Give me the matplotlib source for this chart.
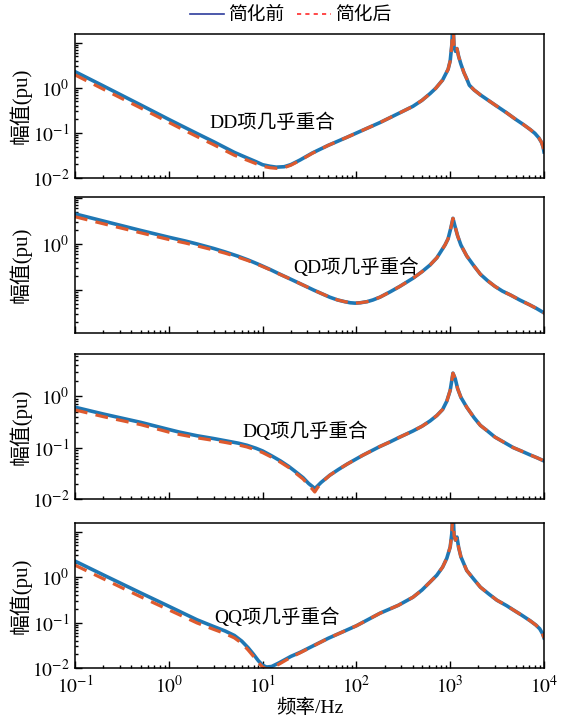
"""Comparaison des impedances avant / apres simplification (4 termes DD, QD, DQ, QQ)."""
import matplotlib
matplotlib.use("Agg")
import matplotlib.pyplot as plt
from matplotlib.lines import Line2D
from matplotlib.ticker import LogLocator, NullFormatter

plt.rcParams["font.family"] = ["Liberation Serif", "Noto Sans CJK SC"]
plt.rcParams["mathtext.fontset"] = "stix"

BLEU = "#1f77b4"
ROUGE = "#de5a2e"

# --- DD ---
freq_dd = [0.1, 0.2, 0.5, 1, 1.3, 2, 3, 5, 6.8, 8.5, 10, 12, 14, 17, 20, 25, 34, 50,
           79, 120, 178, 290, 400, 500, 610, 700, 830, 950, 1000, 1040, 1070, 1100,
           1140, 1180, 1230, 1300, 1400, 1500, 1600, 1800, 2100, 3000, 4000, 5000,
           6000, 7100, 8000, 8800, 9400, 9800, 10000]
avant_dd = [2.3, 1.11, 0.42, 0.2, 0.152, 0.097, 0.064, 0.037, 0.028, 0.023, 0.0197,
            0.0182, 0.0174, 0.0178, 0.0198, 0.025, 0.036, 0.053, 0.08, 0.118, 0.17,
            0.28, 0.39, 0.53, 0.75, 0.98, 1.5, 2.6, 4.0, 9, 30, 8, 6.5, 7.5, 5, 3.4,
            2.2, 1.6, 1.15, 0.9, 0.7, 0.42, 0.28, 0.2, 0.155, 0.12, 0.098, 0.078,
            0.062, 0.048, 0.038]
apres_dd = [1.95, 0.94, 0.36, 0.172, 0.13, 0.083, 0.055, 0.032, 0.025, 0.0208, 0.0182,
            0.0169, 0.0164, 0.017, 0.0192, 0.0245, 0.0355, 0.053, 0.08, 0.118, 0.17,
            0.28, 0.39, 0.53, 0.75, 0.98, 1.5, 2.6, 4.0, 9, 30, 8, 6.5, 7.5, 5, 3.4,
            2.2, 1.6, 1.15, 0.9, 0.7, 0.42, 0.28, 0.2, 0.155, 0.12, 0.098, 0.078,
            0.062, 0.048, 0.038]

# --- QD ---
freq_qd = [0.1, 0.2, 0.5, 1, 1.5, 2, 3, 4, 5.5, 7, 9.4, 12, 15, 19, 23, 29, 35, 43,
           52, 63, 75, 86, 97, 110, 130, 150, 178, 230, 290, 400, 500, 610, 720, 800,
           880, 950, 1020, 1070, 1120, 1200, 1300, 1500, 1800, 2100, 2500, 3000,
           3600, 4400, 5500, 7000, 8300, 10000]
avant_qd = [4.5, 3.15, 1.97, 1.4, 1.16, 1.0, 0.8, 0.67, 0.54, 0.45, 0.35, 0.28, 0.225,
            0.18, 0.15, 0.12, 0.1, 0.083, 0.07, 0.061, 0.056, 0.053, 0.052, 0.053,
            0.056, 0.061, 0.07, 0.092, 0.12, 0.18, 0.25, 0.35, 0.5, 0.7, 0.95, 1.3,
            2.3, 3.6, 2.5, 1.5, 0.95, 0.55, 0.33, 0.22, 0.16, 0.12, 0.095, 0.078,
            0.061, 0.048, 0.04, 0.032]
apres_qd = [3.9, 2.75, 1.75, 1.25, 1.05, 0.91, 0.74, 0.63, 0.515, 0.435, 0.342, 0.276,
            0.223, 0.18, 0.15, 0.12, 0.1, 0.083, 0.07, 0.061, 0.056, 0.053, 0.052,
            0.053, 0.056, 0.061, 0.07, 0.092, 0.12, 0.18, 0.25, 0.35, 0.5, 0.7, 0.95,
            1.3, 2.3, 3.6, 2.5, 1.5, 0.95, 0.55, 0.33, 0.22, 0.16, 0.12, 0.095, 0.078,
            0.061, 0.048, 0.04, 0.032]

# --- DQ ---
freq_dq = [0.1, 0.2, 0.5, 1, 1.3, 2, 3, 4, 5.5, 6.8, 8.5, 10, 12.5, 15.5, 19, 22, 27,
           31, 34, 36, 38, 42, 52, 65, 80, 117, 178, 230, 290, 400, 500, 610, 720,
           830, 920, 1000, 1070, 1130, 1200, 1300, 1500, 1800, 2100, 2500, 3000, 3800,
           4700, 5800, 7000, 8500, 10000]
avant_dq = [0.61, 0.45, 0.31, 0.225, 0.2, 0.17, 0.15, 0.136, 0.122, 0.111, 0.097,
            0.086, 0.069, 0.055, 0.043, 0.035, 0.026, 0.02, 0.0175, 0.016, 0.0175,
            0.021, 0.029, 0.038, 0.048, 0.071, 0.105, 0.13, 0.16, 0.21, 0.26, 0.33,
            0.42, 0.55, 0.8, 1.3, 2.8, 2.2, 1.4, 0.95, 0.61, 0.38, 0.27, 0.21, 0.16,
            0.125, 0.1, 0.085, 0.073, 0.063, 0.055]
apres_dq = [0.54, 0.40, 0.28, 0.2, 0.18, 0.155, 0.138, 0.126, 0.113, 0.103, 0.09,
            0.08, 0.065, 0.052, 0.041, 0.033, 0.0245, 0.0185, 0.0155, 0.0137, 0.016,
            0.0205, 0.029, 0.038, 0.048, 0.071, 0.105, 0.13, 0.16, 0.21, 0.26, 0.33,
            0.42, 0.55, 0.8, 1.3, 2.8, 2.2, 1.4, 0.95, 0.61, 0.38, 0.27, 0.21, 0.16,
            0.125, 0.1, 0.085, 0.073, 0.063, 0.055]

# --- QQ ---
freq_qq = [0.1, 0.2, 0.5, 0.95, 2, 3, 4, 5, 6, 7, 8, 9, 10, 11, 12.5, 15, 20, 25, 50,
           100, 178, 280, 400, 500, 610, 720, 830, 920, 1000, 1040, 1070, 1100, 1140,
           1180, 1230, 1300, 1500, 1800, 2100, 2600, 3150, 4000, 4700, 5800, 7100,
           8200, 9000, 9600, 10000]
avant_qq = [2.25, 1.12, 0.45, 0.24, 0.115, 0.082, 0.065, 0.052, 0.039, 0.028, 0.02,
            0.0145, 0.0115, 0.0105, 0.0108, 0.013, 0.018, 0.022, 0.045, 0.085, 0.16,
            0.24, 0.36, 0.52, 0.78, 1.1, 1.66, 2.6, 4.6, 9, 30, 8, 6.5, 7.6, 4.5, 2.8,
            1.4, 0.88, 0.6, 0.42, 0.31, 0.235, 0.19, 0.145, 0.11, 0.088, 0.073, 0.058,
            0.046]
apres_qq = [1.83, 0.92, 0.37, 0.2, 0.098, 0.071, 0.057, 0.046, 0.035, 0.025, 0.018,
            0.0133, 0.0105, 0.0095, 0.0099, 0.0122, 0.0172, 0.0215, 0.045, 0.085, 0.16,
            0.24, 0.36, 0.52, 0.78, 1.1, 1.66, 2.6, 4.6, 9, 30, 8, 6.5, 7.6, 4.5, 2.8,
            1.4, 0.88, 0.6, 0.42, 0.31, 0.235, 0.19, 0.145, 0.11, 0.088, 0.073, 0.058,
            0.046]

XTICKS = [0.1, 1, 10, 100, 1000, 10000]
XLABELS = ["$10^{-1}$", "$10^{0}$", "$10^{1}$", "$10^{2}$", "$10^{3}$", "$10^{4}$"]

# (donnees, texte, position texte, ylim, yticks, ylabels, position axes)
PANNEAUX = [
    (freq_dd, avant_dd, apres_dd, "DD项几乎重合", (0.42, 0.38), (0.01, 15.8),
     [1e-2, 1e-1, 1e0, 1e1], ["$10^{-2}$", "$10^{-1}$", "$10^{0}$", ""],
     [0.1337, 0.7528, 0.836, 0.200]),
    (freq_qd, avant_qd, apres_qd, "QD项几乎重合", (0.60, 0.485), (0.0117, 10.5),
     [1e-1, 1e0, 1e1], ["", "$10^{0}$", ""],
     [0.1337, 0.5375, 0.836, 0.189]),
    (freq_dq, avant_dq, apres_dq, "DQ项几乎重合", (0.49, 0.47), (0.01, 6.6),
     [1e-2, 1e-1, 1e0], ["$10^{-2}$", "$10^{-1}$", "$10^{0}$"],
     [0.1337, 0.3069, 0.836, 0.2014]),
    (freq_qq, avant_qq, apres_qq, "QQ项几乎重合", (0.43, 0.35), (0.01, 15.5),
     [1e-2, 1e-1, 1e0, 1e1], ["$10^{-2}$", "$10^{-1}$", "$10^{0}$", ""],
     [0.1337, 0.0722, 0.836, 0.2014]),
]


def tracer_panneau(fig, panneau, dernier):
    """Trace un terme de l'impedance sur son propre axe."""
    freq, avant, apres, texte, pos, ylim, yticks, ylabels, rect = panneau
    ax = fig.add_axes(rect)
    ax.plot(freq, avant, color=BLEU, lw=2.6, solid_joinstyle="round")
    ax.plot(freq, apres, color=ROUGE, lw=2.3, dashes=(4, 2.6))
    ax.set_xscale("log")
    ax.set_yscale("log")
    ax.set_xlim(0.1, 10000)
    ax.set_ylim(*ylim)
    ax.set_xticks(XTICKS, labels=XLABELS if dernier else [""] * len(XTICKS))
    ax.set_yticks(yticks, labels=ylabels)
    ax.xaxis.set_minor_locator(LogLocator(base=10, subs=range(2, 10), numticks=30))
    ax.yaxis.set_minor_locator(LogLocator(base=10, subs=range(2, 10), numticks=30))
    ax.xaxis.set_minor_formatter(NullFormatter())
    ax.yaxis.set_minor_formatter(NullFormatter())
    ax.tick_params(which="both", direction="in", top=False, right=False,
                   labelsize=14, width=1.0)
    ax.tick_params(which="major", length=5)
    ax.tick_params(which="minor", length=2.5)
    ax.tick_params(axis="x", which="major", pad=5)
    ax.tick_params(axis="y", which="major", pad=4)
    for spine in ax.spines.values():
        spine.set_linewidth(1.1)
    ax.set_ylabel("幅值(pu)", fontsize=15)
    ax.yaxis.set_label_coords(-0.092, 0.5)
    ax.text(pos[0], pos[1], texte, transform=ax.transAxes, fontsize=14,
            ha="center", va="center")
    if dernier:
        ax.set_xlabel("频率/Hz", fontsize=14, labelpad=1)
    return ax


def main():
    fig = plt.figure(figsize=(5.61, 7.2), dpi=100)
    for i, panneau in enumerate(PANNEAUX):
        tracer_panneau(fig, panneau, i == len(PANNEAUX) - 1)
    poignees = [
        Line2D([], [], color="#2d3c9c", lw=1.2),
        Line2D([], [], color="#ff2a2a", lw=1.2, dashes=(2.5, 2.5)),
    ]
    fig.legend(poignees, ["简化前", "简化后"], loc="center", ncol=2,
               bbox_to_anchor=(0.518, 0.978), frameon=False, fontsize=13.5,
               handlelength=1.8, handletextpad=0.2, columnspacing=0.7)
    fig.savefig("out.png", dpi=100)


if __name__ == "__main__":
    main()
